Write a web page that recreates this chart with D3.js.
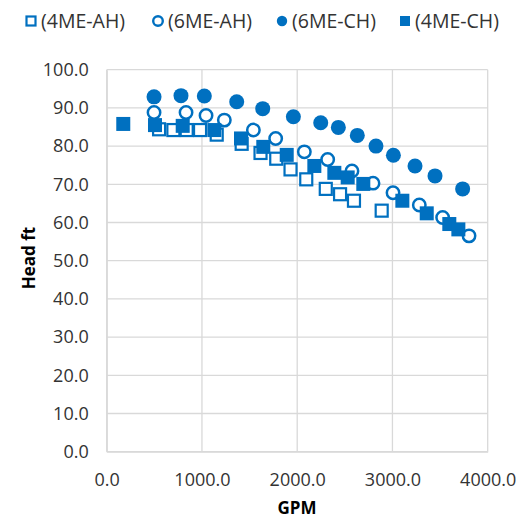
<!DOCTYPE html>
<html><head><meta charset="utf-8">
<script src="https://cdn.jsdelivr.net/npm/d3@7"></script>
<style>body{margin:0;background:#fff}svg{display:block}</style>
</head><body>
<svg id="c" width="519" height="522"></svg>
<script>
const seriesNames = ["(4ME-AH)", "(6ME-AH)", "(6ME-CH)", "(4ME-CH)"];
const ah4X = [550,700,840,980,1155,1417,1615,1780,1930,2095,2300,2450,2596,2887];
const ah4Y = [84.4,84.2,84.2,84.2,83.0,80.6,78.2,76.7,73.9,71.3,68.8,67.4,65.7,63.1];
const ah6X = [497,833,1043,1235,1540,1774,2075,2320,2575,2796,3006,3282,3527,3804];
const ah6Y = [88.8,88.8,88.0,86.8,84.2,82.0,78.5,76.5,73.5,70.3,67.8,64.6,61.3,56.5];
const ch6X = [497,780,1025,1365,1638,1960,2247,2432,2631,2827,3010,3237,3447,3737];
const ch6Y = [92.9,93.2,93.1,91.6,89.8,87.7,86.1,84.9,82.8,80.0,77.6,74.8,72.2,68.8];
const ch4X = [174,507,798,1130,1410,1644,1890,2180,2390,2530,2694,3104,3360,3597,3692];
const ch4Y = [85.8,85.5,85.3,84.2,82.0,79.8,77.7,74.8,73.0,71.8,70.1,65.7,62.4,59.6,58.2];
const xTicks = [0,1000,2000,3000,4000];
const yTicks = [0,10,20,30,40,50,60,70,80,90,100];

const color = "#0070C0";
const font = "'Open Sans', sans-serif";
const svg = d3.select("#c");
const x = d3.scaleLinear().domain([0,4000]).range([106.7,487.7]);
const y = d3.scaleLinear().domain([0,100]).range([451.7,69.7]);

// gridlines
const g = svg.append("g");
g.selectAll(".hg").data(yTicks).join("line")
  .attr("x1", x(0)).attr("x2", x(4000))
  .attr("y1", d=>y(d)).attr("y2", d=>y(d))
  .attr("stroke", "#d9d9d9").attr("stroke-width", 1.3);
g.selectAll(".vg").data(xTicks).join("line")
  .attr("y1", y(0)).attr("y2", y(100))
  .attr("x1", d=>x(d)).attr("x2", d=>x(d))
  .attr("stroke", "#d9d9d9").attr("stroke-width", 1.3);

// axes labels via d3 axes
const xAxis = svg.append("g").attr("transform", `translate(0,${y(0)})`)
  .call(d3.axisBottom(x).tickValues(xTicks).tickFormat(d3.format(".1f")).tickSize(0).tickPadding(22));
const yAxis = svg.append("g").attr("transform", `translate(${x(0)},0)`)
  .call(d3.axisLeft(y).tickValues(yTicks).tickFormat(d3.format(".1f")).tickSize(0).tickPadding(18));
[xAxis, yAxis].forEach(a => {
  a.select(".domain").attr("stroke", "#d9d9d9").attr("stroke-width", 1.3);
  a.selectAll("text").attr("font-family", font).attr("font-size", 18).attr("fill", "#333");
});

svg.append("text").attr("x", 297).attr("y", 514).attr("text-anchor", "middle")
  .attr("font-family", font).attr("font-weight", "bold").attr("font-size", 17).attr("fill", "#000").text("GPM");
svg.append("text").attr("transform", "translate(35,258) rotate(-90)").attr("text-anchor", "middle")
  .attr("font-family", font).attr("font-weight", "bold").attr("font-size", 17).attr("fill", "#000").text("Head ft");

const pts = (xs, ys) => xs.map((v,i)=>({x:v, y:ys[i]}));
const plot = svg.append("g");
// open squares
plot.selectAll(".s1").data(pts(ah4X, ah4Y)).join("rect")
  .attr("x", d=>x(d.x)-6).attr("y", d=>y(d.y)-6).attr("width", 12).attr("height", 12)
  .attr("fill", "#fff").attr("stroke", color).attr("stroke-width", 2.2);
// open circles
plot.selectAll(".s2").data(pts(ah6X, ah6Y)).join("circle")
  .attr("cx", d=>x(d.x)).attr("cy", d=>y(d.y)).attr("r", 6.2)
  .attr("fill", "#fff").attr("stroke", color).attr("stroke-width", 2.5);
// filled circles
plot.selectAll(".s3").data(pts(ch6X, ch6Y)).join("circle")
  .attr("cx", d=>x(d.x)).attr("cy", d=>y(d.y)).attr("r", 7.5)
  .attr("fill", color);
// filled squares
plot.selectAll(".s4").data(pts(ch4X, ch4Y)).join("rect")
  .attr("x", d=>x(d.x)-7).attr("y", d=>y(d.y)-7).attr("width", 14).attr("height", 14)
  .attr("fill", color);

// legend
const legX = [31, 158, 282, 405];
const leg = svg.append("g");
seriesNames.forEach((name, i) => {
  const cx = legX[i], cy = 21;
  if (i === 0) leg.append("rect").attr("x", cx-4.5).attr("y", cy-4.5).attr("width", 9).attr("height", 9)
      .attr("fill", "#fff").attr("stroke", color).attr("stroke-width", 2.2);
  if (i === 1) leg.append("circle").attr("cx", cx).attr("cy", cy).attr("r", 4.8)
      .attr("fill", "#fff").attr("stroke", color).attr("stroke-width", 2.4);
  if (i === 2) leg.append("circle").attr("cx", cx).attr("cy", cy).attr("r", 5.2).attr("fill", color);
  if (i === 3) leg.append("rect").attr("x", cx-5).attr("y", cy-5).attr("width", 10).attr("height", 10).attr("fill", color);
  leg.append("text").attr("x", cx + 10).attr("y", 28).attr("font-family", font).attr("font-size", 19.5)
    .attr("fill", "#333").text(name);
});
</script>
</body></html>
